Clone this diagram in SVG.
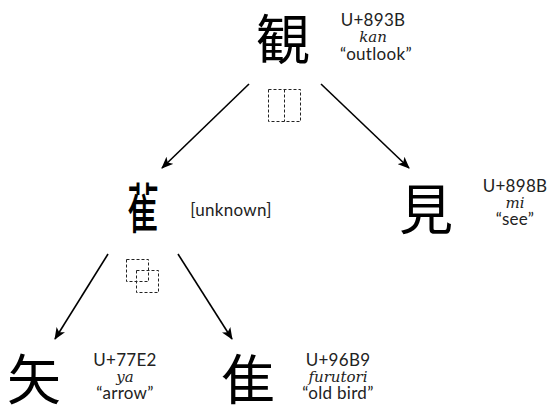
<svg xmlns="http://www.w3.org/2000/svg" width="550" height="405" viewBox="0 0 550 405">
<style>
.cjk{font-family:"Noto Sans CJK JP","Noto Sans CJK SC",sans-serif;font-size:54px;fill:#000;text-anchor:middle}
.lab{font-family:"Lato","Noto Sans",sans-serif;font-size:17px;letter-spacing:0.3px;fill:#222;text-anchor:middle}
.rom{font-family:"DejaVu Serif","Liberation Serif",serif;font-style:italic;font-size:15px;fill:#222;text-anchor:middle}
.dash{fill:none;stroke:#222;stroke-width:1;stroke-dasharray:3 2}
.arr{stroke:#000;stroke-width:1.6;fill:none;marker-end:url(#ah)}
</style>
<defs>
<marker id="ah" viewBox="0 0 12 10" refX="11" refY="5" markerWidth="12" markerHeight="10" markerUnits="userSpaceOnUse" orient="auto">
<path d="M0,0 L12,5 L0,10 L3,5 z" fill="#000"/>
</marker>
</defs>
<g id="connectors">
<line class="arr" x1="249" y1="84" x2="162" y2="168"/>
<line class="arr" x1="321" y1="84" x2="409" y2="168"/>
<line class="arr" x1="108" y1="254" x2="55" y2="339"/>
<line class="arr" x1="178" y1="254" x2="232" y2="339"/>
</g>
<g id="node-kan">
<text class="cjk" x="283" y="60">観</text>
<text class="lab" x="373" y="26">U+893B</text>
<text class="rom" x="373" y="42">kan</text>
<text class="lab" x="376" y="60">“outlook”</text>
<rect class="dash" x="268.5" y="89.5" width="32" height="32"/>
<line class="dash" x1="284.5" y1="89.5" x2="284.5" y2="121.5"/>
</g>
<g id="node-unknown">
<text class="cjk" x="0" y="229" transform="translate(143,0) scale(0.58,1)" style="font-weight:500">雈</text>
<text class="lab" x="231" y="216">[unknown]</text>
<rect class="dash" x="126.5" y="259.5" width="22" height="22"/>
<rect class="dash" x="136.5" y="270.5" width="22" height="22"/>
</g>
<g id="node-mi">
<text class="cjk" x="426" y="230">見</text>
<text class="lab" x="515" y="192">U+898B</text>
<text class="rom" x="515" y="208">mi</text>
<text class="lab" x="515" y="225">“see”</text>
</g>
<g id="node-ya">
<text class="cjk" x="34" y="400">矢</text>
<text class="lab" x="125" y="366">U+77E2</text>
<text class="rom" x="125" y="382">ya</text>
<text class="lab" x="125" y="399">“arrow”</text>
</g>
<g id="node-furutori">
<text class="cjk" x="248" y="400">隹</text>
<text class="lab" x="338" y="366">U+96B9</text>
<text class="rom" x="338" y="382">furutori</text>
<text class="lab" x="338" y="399">“old bird”</text>
</g>
</svg>
